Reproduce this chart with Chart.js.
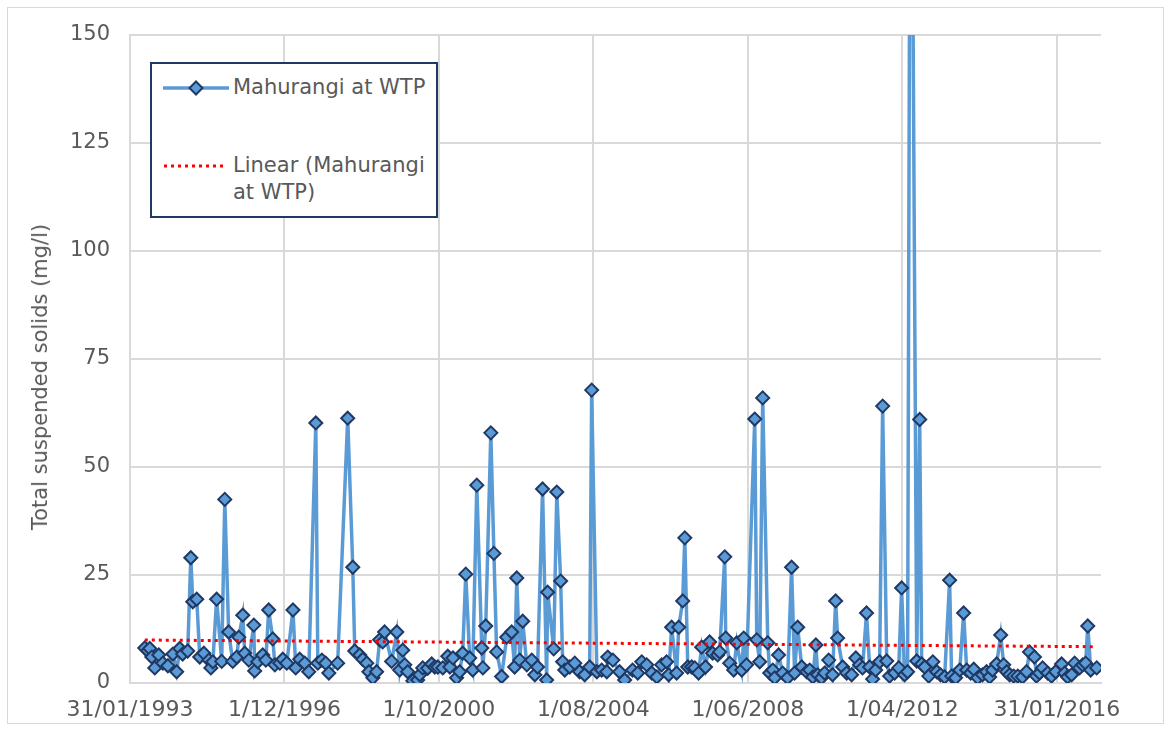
<!DOCTYPE html>
<html>
<head>
<meta charset="utf-8">
<script src="https://cdn.jsdelivr.net/npm/chart.js@4.4.1/dist/chart.umd.min.js"></script>
<style>
html,body{margin:0;padding:0;background:#fff;}
#wrap{position:relative;width:1171px;height:731px;overflow:hidden;}
#frame{position:absolute;left:7px;top:7px;width:1157px;height:717px;border:1.5px solid #d9d9d9;box-sizing:border-box;}
#c{position:absolute;left:0;top:0;}
#legend{position:absolute;left:150px;top:62px;width:288px;height:156px;border:2px solid #1F3864;box-sizing:border-box;background:#fff;font-family:'DejaVu Sans',sans-serif;font-size:21px;color:#595959;}
.sym{position:absolute;}
.txt{position:absolute;white-space:nowrap;line-height:27px;}
#ytitle{position:absolute;left:40px;top:377px;transform:translate(-50%,-50%) rotate(-90deg);white-space:nowrap;font-family:'DejaVu Sans',sans-serif;font-size:21px;color:#595959;line-height:24px;}
</style>
</head>
<body>
<div id="wrap">
  <div id="frame"></div>
  <canvas id="c" width="1171" height="731"></canvas>
  <div id="ytitle"></div>
  <div id="legend">
    <svg class="sym" style="left:11px;top:14px" width="68" height="20">
      <line x1="0" y1="10" x2="66" y2="10" stroke="#5B9BD5" stroke-width="3.5"/>
      <polygon points="33,3.5 39.5,10 33,16.5 26.5,10" fill="#5B9BD5" stroke="#203864" stroke-width="2"/>
    </svg>
    <div class="txt" id="lg1" style="left:81px;top:10px"></div>
    <svg class="sym" style="left:11px;top:92px" width="64" height="20">
      <line x1="1" y1="10" x2="62" y2="10" stroke="#FF0000" stroke-width="3" stroke-dasharray="3,4"/>
    </svg>
    <div class="txt" id="lg2" style="left:81px;top:88px;"></div>
  </div>
</div>
<script>
// ---- data ----
const seriesName = 'Mahurangi at WTP';
const trendName = ['Linear (Mahurangi', 'at WTP)'];
const yTitle = 'Total suspended solids (mg/l)';
const xTickLabels = ['31/01/1993','1/12/1996','1/10/2000','1/08/2004','1/06/2008','1/04/2012','31/01/2016'];
const yTickValues = [0, 25, 50, 75, 100, 125, 150];
const xAxisEnd = '2017-03-06';

const sampleDates = [
'1993-06-14','1993-07-11','1993-07-29','1993-08-17','1993-09-13','1993-10-19','1993-11-25','1994-01-09','1994-02-24','1994-03-30',
'1994-04-27','1994-05-23','1994-07-08','1994-08-05','1994-08-23','1994-09-28','1994-10-25','1994-12-01','1995-01-16','1995-02-03',
'1995-02-21','1995-03-27','1995-05-12','1995-06-09','1995-07-14','1995-08-20','1995-09-26','1995-10-14','1995-11-19','1995-12-07',
'1996-01-13','1996-02-27','1996-03-06','1996-04-03','1996-05-18','1996-06-15','1996-07-11','1996-08-17','1996-09-05','1996-10-20',
'1996-11-16','1996-12-22','1997-02-16','1997-03-13','1997-04-18','1997-06-03','1997-07-09','1997-09-11','1997-09-29','1997-11-05',
'1997-12-10','1998-01-07','1998-03-28','1998-06-27','1998-08-12','1998-08-30','1998-10-14','1998-11-11','1998-12-17','1999-01-05',
'1999-02-10','1999-03-16','1999-04-13','1999-05-10','1999-05-27','1999-07-30','1999-09-15','1999-10-11','1999-11-08','1999-11-26',
'1999-12-23','2000-02-07','2000-03-22','2000-04-10','2000-05-07','2000-06-21','2000-07-27','2000-08-24','2000-09-21','2000-11-05',
'2000-12-20','2001-01-08','2001-02-05','2001-03-10','2001-04-07','2001-05-04','2001-06-01','2001-07-07','2001-08-03','2001-09-09',
'2001-10-24','2001-11-03','2001-11-29','2002-01-14','2002-02-11','2002-03-08','2002-04-22','2002-06-07','2002-07-22','2002-08-18',
'2002-09-06','2002-10-03','2002-10-30','2002-12-06','2003-01-20','2003-02-17','2003-03-14','2003-04-28','2003-06-04','2003-06-13',
'2003-08-07','2003-09-04','2003-10-09','2003-10-27','2003-11-15','2003-12-30','2004-02-14','2004-03-29','2004-05-14','2004-06-28',
'2004-07-16','2004-09-01','2004-10-15','2004-11-30','2004-12-09','2005-01-24','2005-03-26','2005-05-11','2005-07-22','2005-09-07',
'2005-10-13','2005-11-27','2006-01-12','2006-02-27','2006-04-11','2006-05-26','2006-06-14','2006-07-11','2006-08-25','2006-09-13',
'2006-10-19','2006-11-07','2006-12-04','2007-01-09','2007-02-06','2007-03-12','2007-04-09','2007-05-14','2007-06-20','2007-07-17',
'2007-09-01','2007-09-19','2007-11-04','2007-11-13','2007-12-19','2008-01-24','2008-02-21','2008-04-06','2008-04-24','2008-05-20',
'2008-08-02','2008-08-20','2008-09-16','2008-10-13','2008-11-28','2008-12-16','2009-01-13','2009-01-30','2009-03-06','2009-04-12',
'2009-05-27','2009-07-02','2009-07-29','2009-08-26','2009-10-02','2009-11-16','2009-12-13','2010-01-10','2010-02-07','2010-02-24',
'2010-03-30','2010-04-27','2010-06-03','2010-07-08','2010-08-05','2010-08-23','2010-10-08','2010-11-13','2010-12-28','2011-02-04',
'2011-03-10','2011-04-06','2011-05-12','2011-06-09','2011-07-06','2011-08-03','2011-09-08','2011-10-05','2011-11-11','2011-12-07',
'2012-01-22','2012-02-28','2012-03-25','2012-04-21','2012-05-18','2012-06-15','2012-08-09','2012-09-05','2012-09-23','2012-10-20',
'2012-11-26','2013-01-02','2013-02-07','2013-03-13','2013-04-19','2013-06-03','2013-06-21','2013-07-27','2013-09-03','2013-10-08',
'2013-11-05','2013-12-11','2014-01-08','2014-02-13','2014-03-28','2014-05-04','2014-06-01','2014-06-27','2014-08-03','2014-09-09',
'2014-10-06','2014-11-02','2014-11-29','2015-01-05','2015-02-11','2015-03-25','2015-05-01','2015-05-28','2015-07-12','2015-07-30',
'2015-08-27','2015-09-24','2015-11-09','2015-12-14','2016-01-20','2016-03-14','2016-04-10','2016-05-07','2016-06-13','2016-07-10',
'2016-08-24','2016-09-21','2016-10-18','2016-11-06','2016-12-03','2017-01-26'
];

const tssValues = [
8.1,7.5,8.0,6.0,3.5,6.5,4.6,4.0,6.7,2.6,
8.0,6.7,7.4,29.0,18.8,19.4,6.0,6.9,5.3,3.5,
4.9,19.4,5.0,42.5,11.8,5.0,6.0,10.6,15.7,6.9,
5.3,13.4,2.8,4.9,6.5,5.3,16.9,10.2,4.2,4.6,
5.5,4.6,16.9,3.5,5.5,4.6,2.6,60.2,4.6,5.3,
4.6,2.3,4.6,61.3,26.8,7.4,6.5,5.5,4.6,2.6,
1.2,2.6,10.0,9.5,11.8,5.0,11.8,3.0,7.6,4.2,
2.6,0.5,0.7,1.9,3.5,3.4,4.4,3.7,3.7,3.5,
6.2,3.7,5.8,1.2,2.6,6.9,25.2,5.8,3.0,45.8,
8.1,3.5,13.2,57.9,30.0,7.2,1.5,10.6,11.8,3.7,
24.3,5.3,14.3,4.2,5.3,1.9,3.7,44.9,0.7,21.0,
7.9,44.2,23.6,4.9,3.0,3.7,4.6,2.6,1.9,3.7,
67.8,2.6,3.0,2.6,6.0,5.3,2.6,0.7,3.0,2.3,
4.9,4.2,2.3,1.4,4.2,4.9,1.9,12.9,2.3,12.9,
19.0,33.6,3.7,3.7,3.5,2.3,8.3,3.7,9.5,6.9,
6.5,7.2,29.2,10.4,4.6,3.0,9.3,3.0,10.4,4.2,
61.1,10.0,4.9,66.0,9.3,2.3,3.0,1.2,6.5,2.3,
1.2,26.8,2.3,12.9,3.7,2.6,3.0,1.4,8.8,1.9,
1.2,2.3,5.3,1.9,19.0,10.4,3.7,2.3,1.9,5.8,
4.2,3.5,16.2,3.7,0.9,3.0,4.9,64.1,5.1,1.6,
2.3,3.5,22.0,1.9,2.6,250,5.1,61.0,4.4,3.7,
1.6,4.9,2.6,1.9,1.4,23.8,1.6,1.2,3.0,16.2,
3.0,2.3,3.2,1.2,1.9,2.6,1.4,3.0,4.4,11.1,
4.2,2.6,1.9,1.6,1.6,1.4,2.6,7.2,6.0,1.6,
2.3,3.5,2.3,1.6,2.6,4.4,2.3,1.4,1.9,4.6,
3.5,4.2,4.6,13.2,3.0,3.5
];

// linear trendline end values
const trendValues = [9.95, 8.4];

// ---- helpers ----
const DAY = 86400000;
const base = Date.UTC(1993, 0, 31);
function isoToDay(s){ const p = s.split('-').map(Number); return (Date.UTC(p[0], p[1]-1, p[2]) - base) / DAY; }
function dmyToDay(s){ const p = s.split('/').map(Number); return (Date.UTC(p[2], p[1]-1, p[0]) - base) / DAY; }
const tickDays = xTickLabels.map(dmyToDay);
const labelByDay = {}; tickDays.forEach((d, i) => labelByDay[d] = xTickLabels[i]);

const seriesData = sampleDates.map((d, i) => ({ x: isoToDay(d), y: tssValues[i] }));
const trendData = [
  { x: isoToDay(sampleDates[0]), y: trendValues[0] },
  { x: isoToDay(sampleDates[sampleDates.length - 1]), y: trendValues[1] }
];

document.getElementById('lg1').textContent = seriesName;
document.getElementById('lg2').innerHTML = trendName.map(t => t.replace(/&/g,'&amp;').replace(/</g,'&lt;')).join('<br>');
document.getElementById('ytitle').textContent = yTitle;

const FONT = 'DejaVu Sans';
const TXT = '#595959';
const GRID = '#d9d9d9';

new Chart(document.getElementById('c'), {
  type: 'line',
  data: {
    datasets: [
      {
        label: trendName.join(' '),
        data: trendData,
        borderColor: '#FF0000',
        borderWidth: 3,
        borderDash: [3, 4],
        pointRadius: 0,
        fill: false
      },
      {
        label: seriesName,
        data: seriesData,
        borderColor: '#5B9BD5',
        borderWidth: 3.5,
        pointStyle: 'rectRot',
        pointRadius: 6.5,
        pointBackgroundColor: '#5B9BD5',
        pointBorderColor: '#203864',
        pointBorderWidth: 2,
        fill: false,
        tension: 0
      }
    ]
  },
  options: {
    responsive: false,
    animation: false,
    devicePixelRatio: 1,
    layout: { padding: { top: 35, right: 70, bottom: 0, left: 0 } },
    plugins: { legend: { display: false }, tooltip: { enabled: false } },
    scales: {
      x: {
        type: 'linear',
        min: 0,
        max: isoToDay(xAxisEnd),
        afterFit: s => { s.height = 48; },
        afterBuildTicks: s => { s.ticks = tickDays.map(v => ({ value: v })); },
        ticks: {
          autoSkip: false,
          maxRotation: 0,
          padding: 14,
          color: TXT,
          font: { family: FONT, size: 22 },
          callback: v => labelByDay[v] || ''
        },
        grid: { color: GRID, lineWidth: 2, drawTicks: false },
        border: { color: GRID, width: 2 }
      },
      y: {
        min: 0,
        max: 150,
        afterFit: s => { s.width = 130; },
        afterBuildTicks: s => { s.ticks = yTickValues.map(v => ({ value: v })); },
        ticks: {
          padding: 20,
          color: TXT,
          font: { family: FONT, size: 21 }
        },
        grid: { color: GRID, lineWidth: 2, drawTicks: false },
        border: { color: GRID, width: 2 },
        title: { display: false }
      }
    }
  }
});
</script>
</body>
</html>
